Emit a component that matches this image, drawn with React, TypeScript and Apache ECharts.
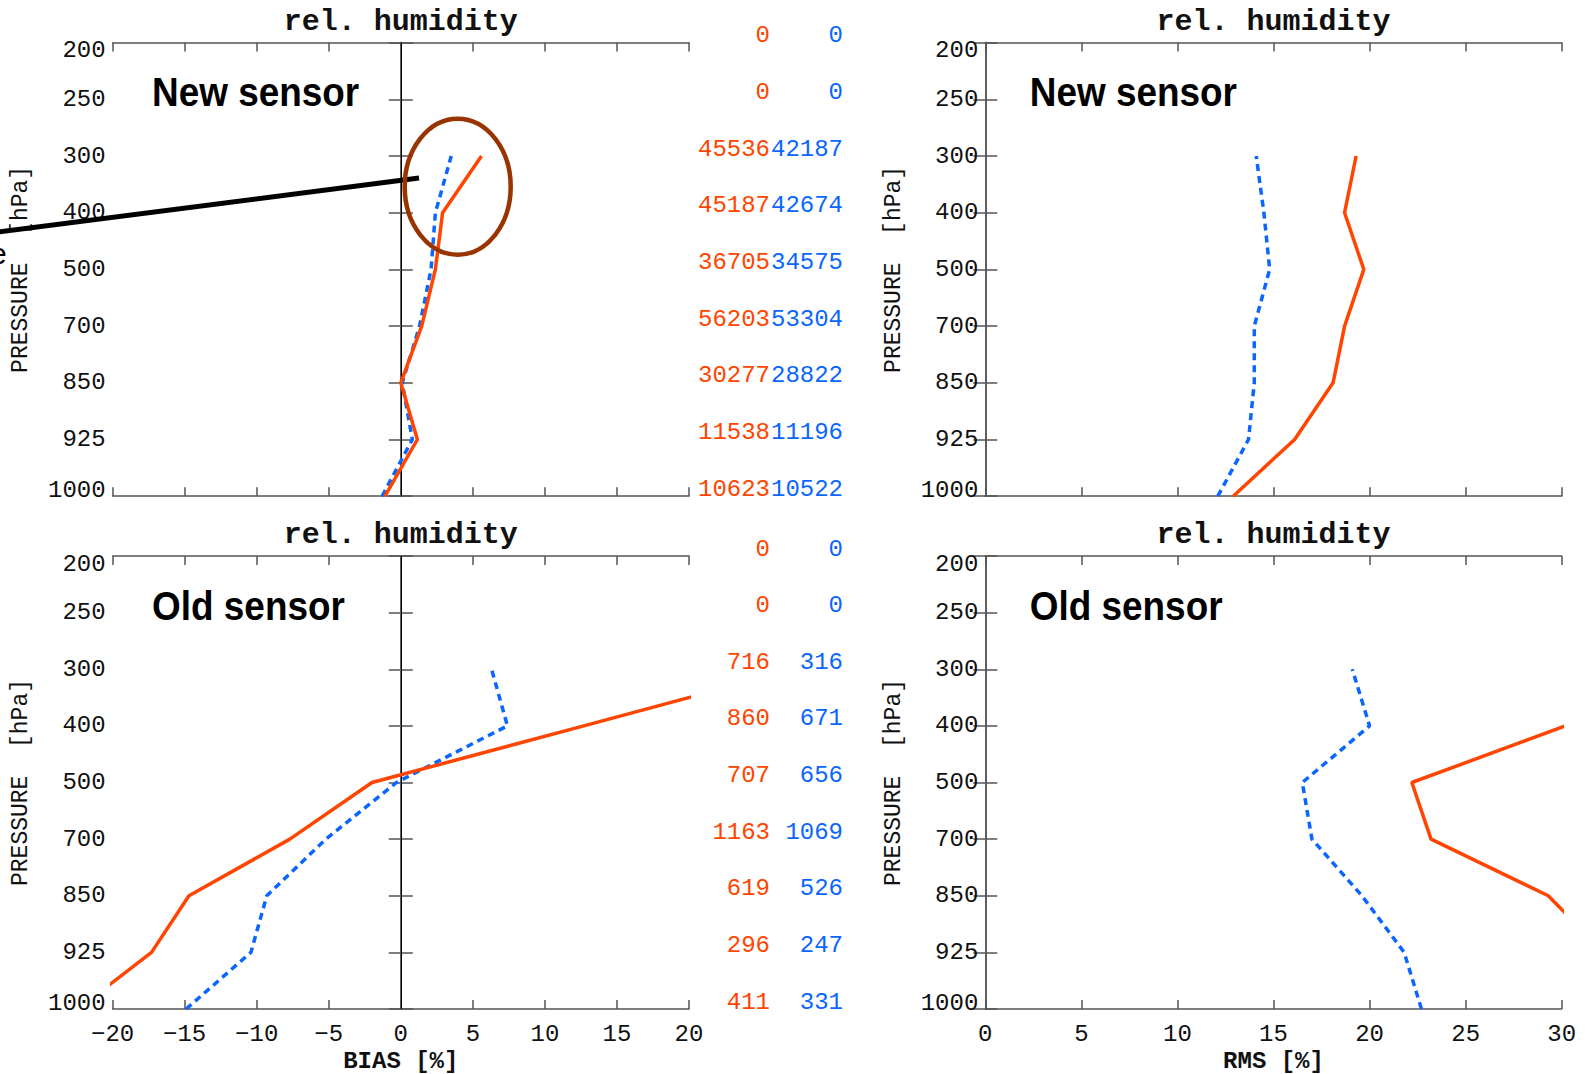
import React, { useEffect, useRef } from "react";
import * as echarts from "echarts";

// Pressure levels on the vertical axis, bottom to top
const pressureLevels = ["1000", "925", "850", "700", "500", "400", "300", "250", "200"];
// Levels that carry a profile value
const profileLevels = ["1000", "925", "850", "700", "500", "400", "300"];

// Relative humidity BIAS [%], new sensor
const newBiasOrange = [-1.1, 1.15, 0.0, 1.45, 2.4, 2.9, 5.6];
const newBiasBlue = [-1.3, 0.8, 0.1, 1.3, 2.1, 2.4, 3.5];
// Relative humidity RMS [%], new sensor
const newRmsOrange = [12.9, 16.1, 18.1, 18.7, 19.7, 18.7, 19.3];
const newRmsBlue = [12.1, 13.7, 14.0, 14.0, 14.8, 14.5, 14.1];
// Relative humidity BIAS [%], old sensor
const oldBiasOrange = [-22.4, -17.3, -14.7, -7.7, -2.0, 12.7, 27.3];
const oldBiasBlue = [-14.9, -10.4, -9.3, -5.2, -0.3, 7.4, 6.3];
// Relative humidity RMS [%], old sensor
const oldRmsOrange: (number | null)[] = [null, 32.2, 29.3, 23.2, 22.2, 30.2, null];
const oldRmsBlue = [22.7, 21.8, 19.6, 17.0, 16.5, 20.0, 19.1];

// Number of observations per level (same order as pressureLevels)
const newCountsOrange = [10623, 11538, 30277, 56203, 36705, 45187, 45536, 0, 0];
const newCountsBlue = [10522, 11196, 28822, 53304, 34575, 42674, 42187, 0, 0];
const oldCountsOrange = [411, 296, 619, 1163, 707, 860, 716, 0, 0];
const oldCountsBlue = [331, 247, 526, 1069, 656, 671, 316, 0, 0];

const titleText = "rel. humidity";
const biasName = "BIAS [%]";
const rmsName = "RMS [%]";
const pressureName = "PRESSURE  [hPa]";

const ORANGE = "#FF4500";
const BLUE = "#0A66FF";
const AXIS = "#555555";
const MONO = "'Liberation Mono', 'DejaVu Sans Mono', monospace";

const GRID_W = 576.4;
const GRID_H = 453.6;
const gridPos = [
  { left: 112.6, top: 42.6 },
  { left: 985.3, top: 42.6 },
  { left: 112.6, top: 556 },
  { left: 985.3, top: 556 },
];

type Panel = {
  kind: "bias" | "rms";
  label: string;
  orange: (number | null)[];
  blue: (number | null)[];
  counts?: [number[], number[]];
  bottom: boolean;
};

const panels: Panel[] = [
  { kind: "bias", label: "New sensor", orange: newBiasOrange, blue: newBiasBlue, counts: [newCountsOrange, newCountsBlue], bottom: false },
  { kind: "rms", label: "New sensor", orange: newRmsOrange, blue: newRmsBlue, bottom: false },
  { kind: "bias", label: "Old sensor", orange: oldBiasOrange, blue: oldBiasBlue, counts: [oldCountsOrange, oldCountsBlue], bottom: true },
  { kind: "rms", label: "Old sensor", orange: oldRmsOrange, blue: oldRmsBlue, bottom: true },
];

const toPoints = (vals: (number | null)[]) =>
  vals
    .map((v, i) => (v === null ? null : [v, profileLevels[i]]))
    .filter((p) => p !== null);

const fmtTick = (v: number) => (v < 0 ? "\u2212" + Math.abs(v) : String(v));

function buildOption(): echarts.EChartsOption {
  const grid: any[] = [];
  const xAxis: any[] = [];
  const yAxis: any[] = [];
  const series: any[] = [];
  const graphic: any[] = [];

  const axisLine = { show: true, lineStyle: { color: AXIS, width: 1.5 } };
  const labelFont = { fontFamily: MONO, fontSize: 24, color: "#111" };

  panels.forEach((p, g) => {
    const pos = gridPos[g];
    grid.push({ left: pos.left, top: pos.top, width: GRID_W, height: GRID_H, containLabel: false });

    const range = p.kind === "bias" ? { min: -20, max: 20 } : { min: 0, max: 30 };
    const xCommon = {
      gridIndex: g,
      type: "value",
      ...range,
      interval: 5,
      axisLine,
      splitLine: { show: false },
      axisTick: { show: true, inside: true, length: 9, lineStyle: { color: AXIS, width: 1.5 } },
    };
    xAxis.push({
      ...xCommon,
      position: "bottom",
      axisLabel: { show: p.bottom, margin: 13, formatter: fmtTick, ...labelFont },
      name: p.bottom ? (p.kind === "bias" ? biasName : rmsName) : "",
      nameLocation: "middle",
      nameGap: 40,
      nameTextStyle: { fontFamily: MONO, fontSize: 24, fontWeight: "bold", color: "#111" },
    });
    xAxis.push({ ...xCommon, position: "top", axisLabel: { show: false } });

    const yCommon = {
      gridIndex: g,
      type: "category",
      data: pressureLevels,
      boundaryGap: false,
      axisLine,
      splitLine: { show: false },
      axisTick: { show: true, inside: true, length: 12, interval: 0, lineStyle: { color: AXIS, width: 1.5 } },
    };
    yAxis.push({
      ...yCommon,
      position: "left",
      name: pressureName,
      nameLocation: "middle",
      nameRotate: 90,
      nameGap: 80,
      nameTextStyle: { fontFamily: MONO, fontSize: 23, color: "#111" },
      axisLabel: {
        show: true,
        interval: 0,
        margin: 7,
        formatter: (value: string, index: number) => {
          if (index === pressureLevels.length - 1) return `{top|${value}}`;
          if (index === 0) return `{bot|${value}}`;
          return `{mid|${value}}`;
        },
        rich: {
          top: { ...labelFont, padding: [16, 0, 0, 0] },
          bot: { ...labelFont, padding: [0, 0, 12, 0] },
          mid: { ...labelFont },
        },
      },
    });

    const counts = p.counts;
    yAxis.push({
      ...yCommon,
      position: "right",
      axisLabel: counts
        ? {
            show: true,
            interval: 0,
            align: "right",
            margin: 154,
            padding: [0, 0, 14, 0],
            formatter: (_v: string, index: number) => `{o|${counts[0][index]}}{b|${counts[1][index]}}`,
            rich: {
              o: { fontFamily: MONO, fontSize: 24, color: ORANGE, width: 73, align: "right" },
              b: { fontFamily: MONO, fontSize: 24, color: BLUE, width: 73, align: "right" },
            },
          }
        : { show: false },
    });

    const orangeSeries: any = {
      type: "line",
      xAxisIndex: 2 * g,
      yAxisIndex: 2 * g,
      data: toPoints(p.orange),
      showSymbol: false,
      symbol: "none",
      lineStyle: { color: ORANGE, width: 3.5 },
      itemStyle: { color: ORANGE },
      clip: true,
      z: 3,
    };
    if (p.kind === "bias") {
      orangeSeries.markLine = {
        silent: true,
        symbol: "none",
        label: { show: false },
        lineStyle: { color: "#000", width: 1, type: "solid" },
        data: [{ xAxis: 0 }],
        z: 1,
      };
    }
    series.push({
      type: "line",
      xAxisIndex: 2 * g,
      yAxisIndex: 2 * g,
      data: toPoints(p.blue),
      showSymbol: false,
      symbol: "none",
      lineStyle: { color: BLUE, width: 3.5, type: [7, 5] },
      itemStyle: { color: BLUE },
      clip: true,
      z: 2,
    });
    series.push(orangeSeries);

    // panel title
    graphic.push({
      type: "text",
      x: pos.left + GRID_W / 2,
      y: pos.top - 21,
      style: {
        text: titleText,
        fontFamily: MONO,
        fontSize: 30,
        fontWeight: "bold",
        fill: "#111",
        align: "center",
        verticalAlign: "middle",
      },
    });
    // sensor label
    graphic.push({
      type: "text",
      x: pos.left + (g % 2 === 0 ? 39.5 : 44.5),
      y: pos.top + 49.5,
      scaleX: 0.9,
      style: {
        text: p.label,
        fontFamily: "'Liberation Sans', Arial, sans-serif",
        fontSize: 41,
        fontWeight: "bold",
        fill: "#000",
        align: "left",
        verticalAlign: "middle",
      },
    });
  });

  // annotation pointing at the upper part of the new sensor bias profile
  graphic.push({
    type: "line",
    shape: { x1: -6, y1: 232.5, x2: 419, y2: 178 },
    style: { stroke: "#000", lineWidth: 5 },
    z: 10,
  });
  graphic.push({
    type: "ellipse",
    shape: { cx: 457.7, cy: 186.7, rx: 53, ry: 68 },
    style: { fill: "none", stroke: "#993300", lineWidth: 4.5 },
    z: 10,
  });
  graphic.push({
    type: "text",
    x: -10,
    y: 253,
    style: {
      text: "e",
      fontFamily: "'Liberation Sans', Arial, sans-serif",
      fontSize: 30,
      fill: "#000",
      align: "left",
      verticalAlign: "middle",
    },
    z: 10,
  });

  return {
    animation: false,
    backgroundColor: "#ffffff",
    grid,
    xAxis,
    yAxis,
    series,
    graphic,
  } as echarts.EChartsOption;
}

export default function App() {
  const ref = useRef<HTMLDivElement>(null);
  useEffect(() => {
    if (!ref.current) return;
    const chart = echarts.init(ref.current, undefined, { renderer: "svg" });
    chart.setOption(buildOption());
    return () => chart.dispose();
  }, []);
  return (
    <div
      ref={ref}
      style={{ position: "absolute", left: 0, top: 0, width: 1591, height: 1074, background: "#fff" }}
    />
  );
}
